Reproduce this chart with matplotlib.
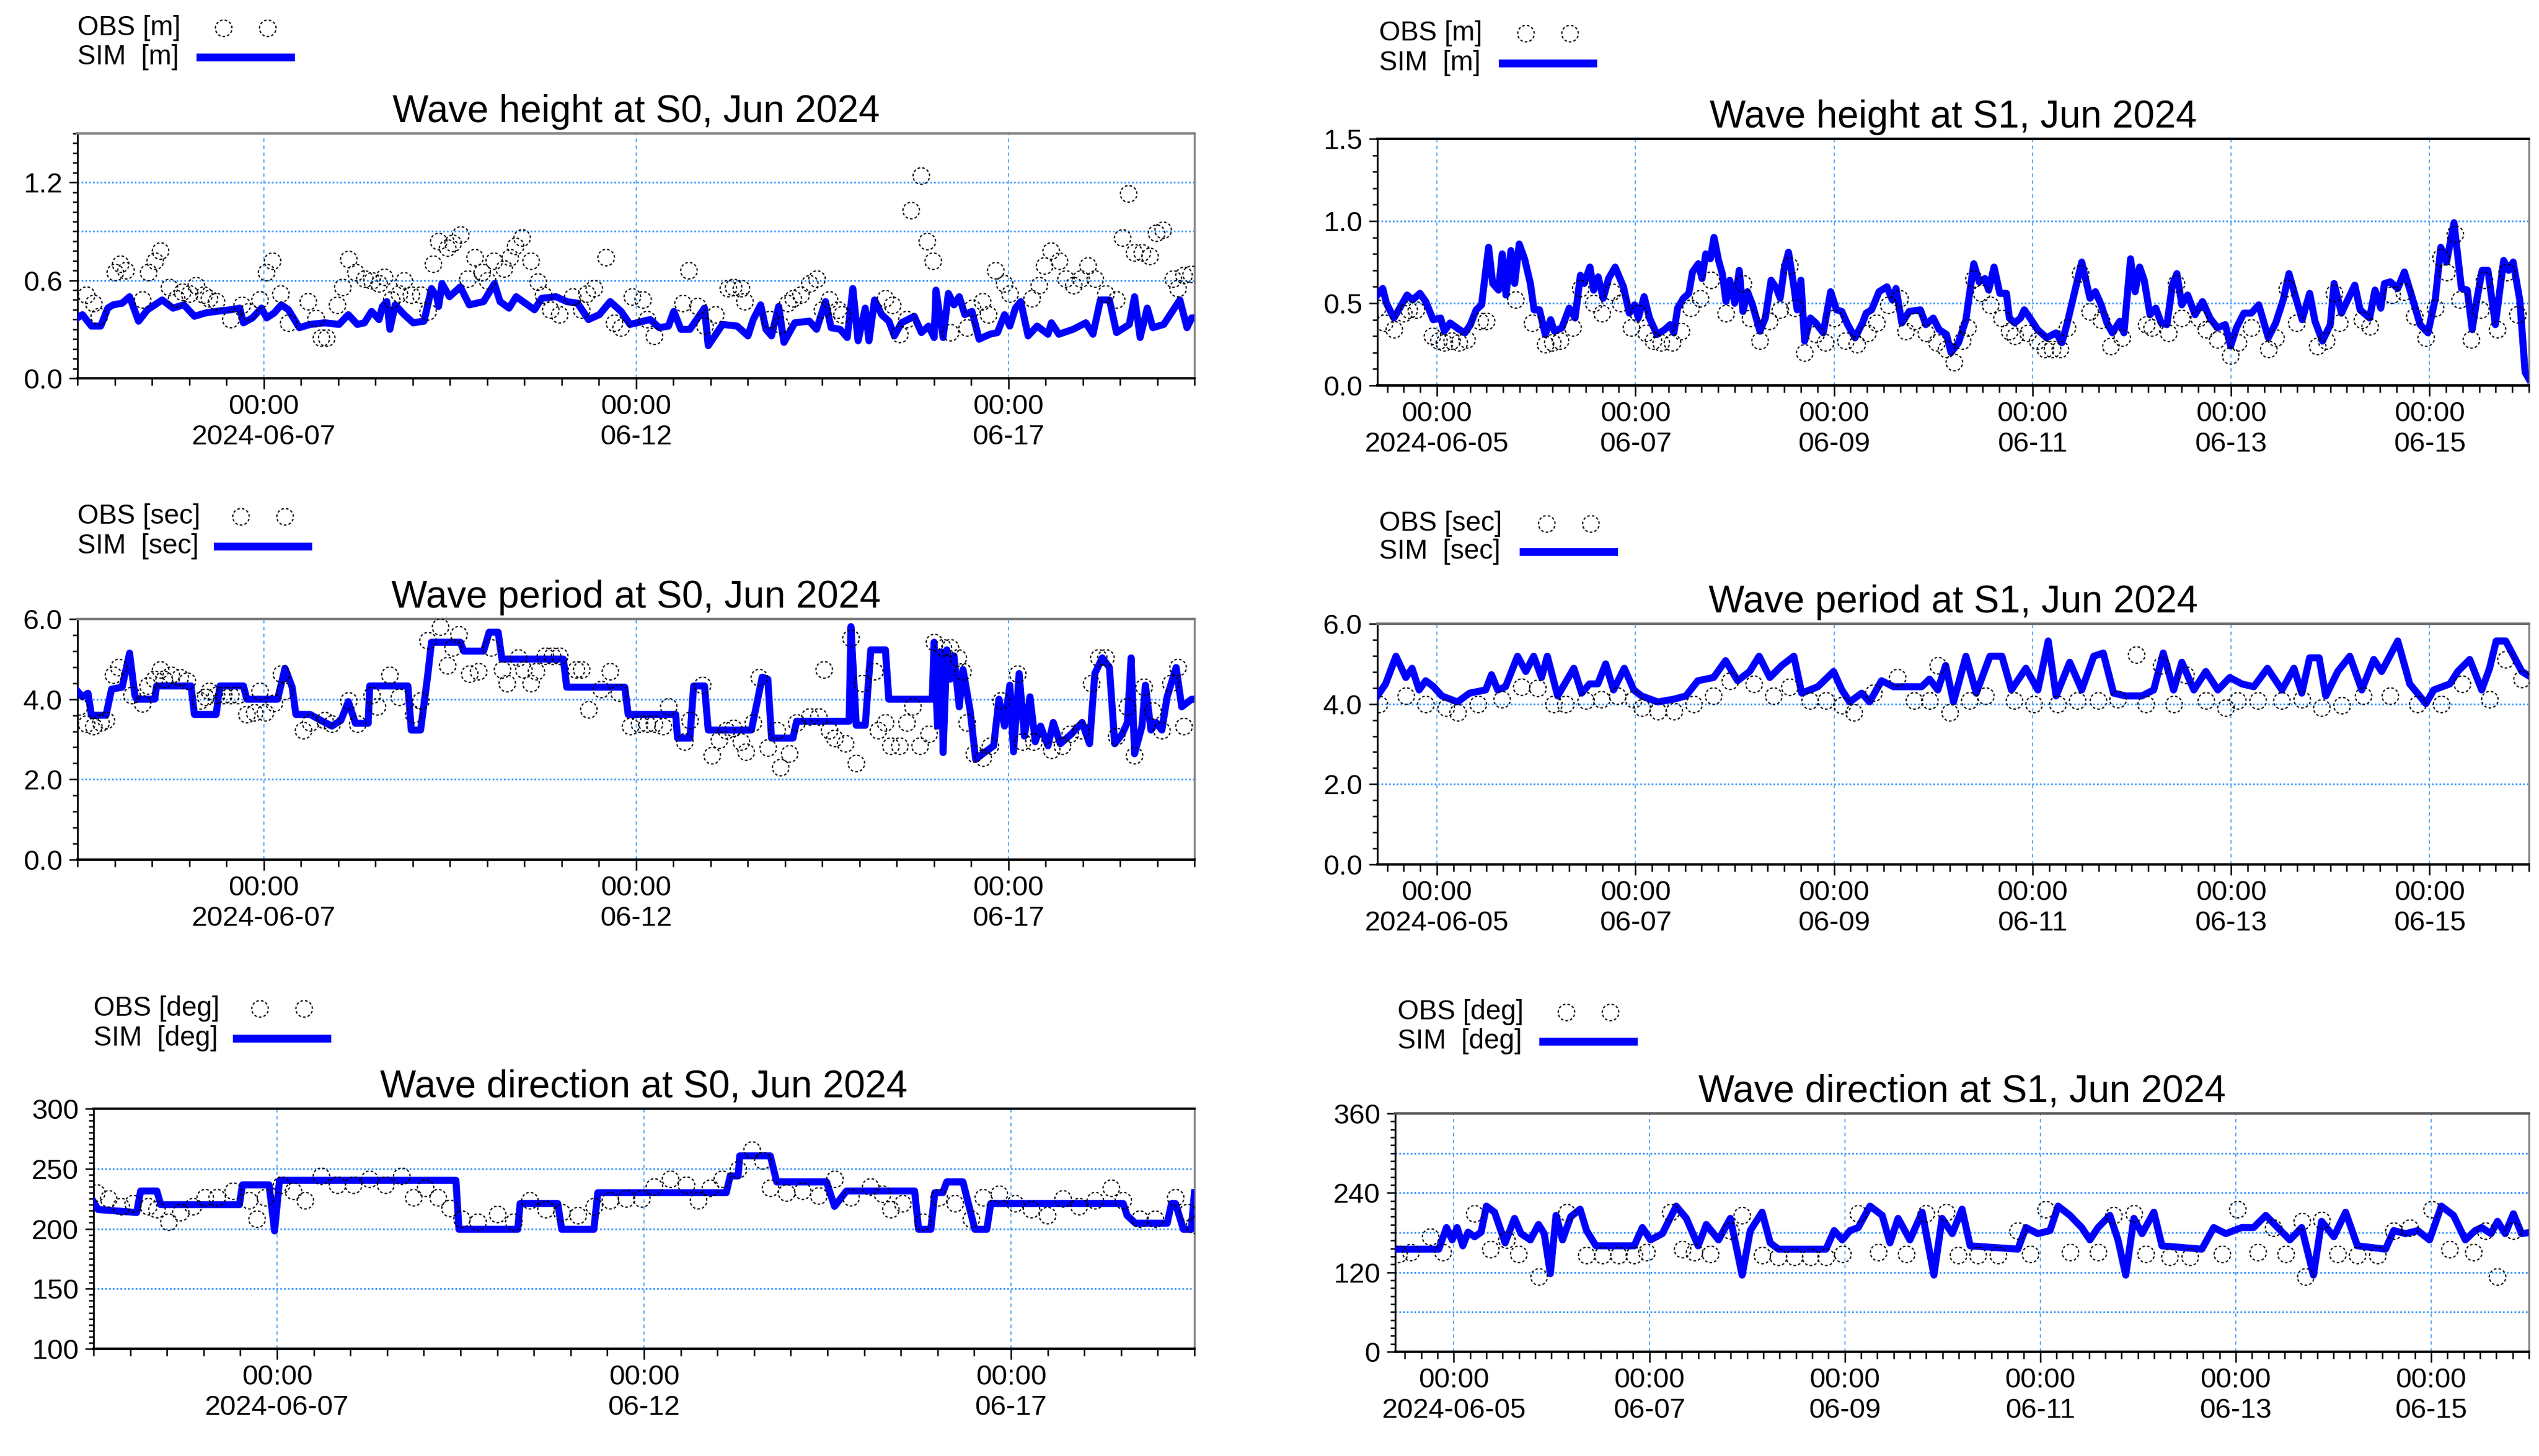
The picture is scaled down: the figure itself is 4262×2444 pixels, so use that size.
import numpy as np
import matplotlib
matplotlib.use('Agg')
import matplotlib.pyplot as plt
import matplotlib.dates as mdates
from matplotlib.path import Path
from matplotlib.lines import Line2D
from matplotlib.ticker import MultipleLocator

plt.rcParams['font.family'] = ['Liberation Sans', 'DejaVu Sans']

W, H, DPI = 4262, 2444, 100

# ---------------- data ----------------
# S0 series: [hours since 2024-06-04 12:00, value]
# S1 series: [hours since 2024-06-05 00:00, value]
BASE_S0 = '2024-06-04T12:00'
BASE_S1 = '2024-06-05T00:00'

hs0_sim = np.array([
    [0, 0.37], [1.6, 0.39], [4.5, 0.32], [7.5, 0.32], [9.8, 0.43], [11.5, 0.45], [14.4, 0.46], [16.8, 0.50],
    [19.7, 0.35], [22.6, 0.42], [27.3, 0.48], [30.8, 0.43], [34.3, 0.45], [37.7, 0.38], [41.2, 0.40],
    [44.7, 0.41], [49.4, 0.42], [52.3, 0.43], [53.5, 0.34], [56.4, 0.37], [59.3, 0.43], [61.0, 0.37],
    [63.4, 0.40], [65.7, 0.45], [68.0, 0.42], [71.5, 0.31], [75.0, 0.33], [79.7, 0.34], [84.3, 0.33],
    [87.3, 0.39], [90.2, 0.33], [92.5, 0.34], [94.8, 0.41], [97.2, 0.36], [98.3, 0.44], [99.7, 0.47],
    [100.7, 0.30], [102.4, 0.45], [105.3, 0.39], [108.2, 0.34], [111.7, 0.35], [114.1, 0.55], [115.8, 0.50],
    [116.4, 0.44], [117.5, 0.58], [119.9, 0.50], [123.4, 0.56], [126.3, 0.45], [130.9, 0.47], [134.4, 0.58],
    [136.2, 0.47], [139.1, 0.43], [141.4, 0.50], [147.3, 0.42], [149.6, 0.49], [154.2, 0.50], [157.7, 0.47],
    [161.2, 0.46], [164.7, 0.36], [168.2, 0.39], [171.7, 0.47], [175.2, 0.41], [178.1, 0.33], [184.6, 0.36],
    [187.5, 0.31], [190.5, 0.32], [192.2, 0.41], [194.5, 0.30], [197.4, 0.30], [202.1, 0.43], [203.3, 0.20],
    [207.9, 0.33], [212.6, 0.32], [216.1, 0.26], [217.8, 0.36], [220.2, 0.45], [221.9, 0.30], [223.7, 0.26],
    [226.0, 0.44], [227.7, 0.22], [231.2, 0.34], [235.9, 0.35], [238.2, 0.30], [241.1, 0.47], [242.9, 0.31],
    [245.8, 0.30], [248.1, 0.25], [249.9, 0.55], [251.6, 0.23], [253.9, 0.43], [255.1, 0.23], [256.9, 0.48],
    [259.2, 0.39], [261.5, 0.35], [263.3, 0.26], [265.6, 0.34], [269.7, 0.38], [272.0, 0.28], [274.3, 0.32],
    [276.1, 0.25], [276.7, 0.54], [279.0, 0.25], [280.7, 0.52], [282.5, 0.45], [284.2, 0.50], [286.0, 0.39],
    [288.3, 0.41], [290.6, 0.24], [294.1, 0.27], [296.5, 0.28], [298.8, 0.39], [300.5, 0.32], [302.3, 0.43],
    [304.0, 0.47], [306.4, 0.26], [309.3, 0.32], [312.8, 0.27], [313.9, 0.34], [316.3, 0.27], [320.9, 0.30],
    [325.0, 0.34], [327.3, 0.27], [329.7, 0.48], [332.6, 0.48], [334.9, 0.28], [339.0, 0.33], [340.7, 0.50],
    [342.5, 0.25], [344.8, 0.43], [346.6, 0.31], [350.1, 0.33], [355.3, 0.48], [357.6, 0.31], [359.1, 0.37],
    [360, 0.37]])
hs0_obs = np.array([
    [2.8, 0.51], [5.1, 0.46], [6.9, 0.38], [12.1, 0.65], [13.9, 0.70], [15.6, 0.66], [20.9, 0.48], [22.8, 0.65],
    [24.9, 0.72], [26.7, 0.78], [29.6, 0.56], [31.9, 0.49], [33.7, 0.53], [36.0, 0.52], [38.3, 0.57],
    [40.7, 0.51], [42.4, 0.49], [44.7, 0.47], [49.4, 0.36], [52.9, 0.45], [55.2, 0.41], [58.7, 0.48],
    [60.8, 0.65], [62.8, 0.72], [65.5, 0.52], [68.0, 0.34], [74.4, 0.47], [76.8, 0.37], [78.5, 0.25],
    [80.3, 0.25], [83.8, 0.45], [85.5, 0.56], [87.3, 0.73], [89.6, 0.65], [92.5, 0.61], [94.8, 0.60],
    [97.2, 0.58], [98.9, 0.62], [101.2, 0.48], [103.6, 0.52], [105.3, 0.60], [107.6, 0.51], [110.6, 0.51],
    [112.9, 0.41], [114.6, 0.70], [116.4, 0.84], [119.3, 0.80], [121.0, 0.83], [123.4, 0.88], [125.7, 0.61],
    [128.0, 0.74], [130.4, 0.65], [132.1, 0.60], [134.2, 0.72], [137.4, 0.67], [139.3, 0.74], [141.2, 0.81],
    [143.2, 0.86], [146.1, 0.72], [148.4, 0.59], [150.2, 0.51], [152.5, 0.42], [155.4, 0.39], [159.5, 0.50],
    [162.4, 0.42], [164.1, 0.52], [166.5, 0.55], [170.3, 0.74], [172.9, 0.34], [175.2, 0.31], [178.7, 0.50],
    [182.3, 0.48], [183.5, 0.36], [185.8, 0.26], [195.1, 0.46], [196.9, 0.66], [199.8, 0.44], [202.1, 0.32],
    [205.6, 0.39], [209.7, 0.55], [211.4, 0.56], [213.8, 0.55], [215.1, 0.47], [223.1, 0.36], [226.6, 0.33],
    [228.9, 0.46], [230.6, 0.49], [233.0, 0.51], [235.9, 0.58], [238.2, 0.61], [240.0, 0.42], [242.3, 0.48],
    [245.2, 0.42], [246.4, 0.39], [260.3, 0.49], [262.7, 0.45], [265.0, 0.27], [267.3, 0.36], [268.7, 1.03],
    [271.8, 1.24], [273.7, 0.84], [275.7, 0.72], [281.3, 0.28], [286.6, 0.31], [288.3, 0.43], [291.6, 0.47],
    [293.6, 0.39], [295.9, 0.66], [298.8, 0.58], [300.5, 0.52], [307.5, 0.49], [309.9, 0.57], [311.6, 0.69],
    [313.7, 0.78], [316.5, 0.72], [318.6, 0.61], [321.0, 0.57], [323.3, 0.61], [325.6, 0.69], [328.0, 0.61],
    [331.4, 0.52], [334.9, 0.48], [336.7, 0.86], [338.6, 1.13], [340.7, 0.77], [343.1, 0.77], [345.6, 0.75],
    [347.7, 0.89], [349.8, 0.91], [353.0, 0.61], [354.7, 0.55], [356.5, 0.63], [358.8, 0.64]])

hs1_sim = np.array([
    [-14.4, 0.55], [-13.1, 0.59], [-12.2, 0.50], [-10.4, 0.41], [-9.0, 0.47], [-7.2, 0.55], [-5.9, 0.52],
    [-4.1, 0.56], [-2.7, 0.51], [-0.9, 0.40], [0.9, 0.41], [1.8, 0.33], [3.2, 0.38], [5.4, 0.34], [6.8, 0.32],
    [8.1, 0.37], [9.5, 0.46], [10.8, 0.49], [12.5, 0.84], [13.5, 0.62], [14.9, 0.58], [15.8, 0.80], [16.7, 0.55],
    [17.9, 0.82], [18.8, 0.62], [19.9, 0.86], [21.2, 0.77], [22.6, 0.62], [23.5, 0.46], [24.8, 0.46],
    [26.2, 0.31], [27.5, 0.40], [28.4, 0.33], [30.2, 0.35], [32.0, 0.47], [33.4, 0.41], [34.7, 0.67],
    [35.6, 0.62], [37.0, 0.72], [37.9, 0.58], [39.0, 0.66], [40.2, 0.53], [41.5, 0.65], [43.1, 0.72],
    [45.1, 0.60], [46.5, 0.44], [47.8, 0.49], [48.7, 0.41], [50.1, 0.54], [51.4, 0.41], [53.2, 0.31],
    [55.1, 0.34], [56.4, 0.37], [57.3, 0.32], [58.2, 0.47], [59.6, 0.53], [60.9, 0.56], [61.8, 0.69],
    [63.2, 0.74], [64.1, 0.65], [65.0, 0.80], [66.1, 0.77], [67.0, 0.90], [68.1, 0.76], [69.0, 0.68],
    [69.9, 0.51], [70.8, 0.64], [72.0, 0.50], [73.1, 0.70], [74.0, 0.45], [75.1, 0.57], [76.3, 0.49],
    [78.1, 0.33], [79.4, 0.41], [80.8, 0.64], [82.1, 0.59], [83.0, 0.53], [83.9, 0.70], [85.0, 0.81],
    [86.2, 0.62], [87.1, 0.46], [88.0, 0.64], [88.9, 0.27], [90.3, 0.41], [91.6, 0.38], [93.4, 0.32],
    [95.2, 0.57], [96.6, 0.46], [97.9, 0.45], [99.3, 0.37], [101.1, 0.29], [102.9, 0.38], [103.8, 0.44],
    [105.1, 0.46], [106.9, 0.57], [108.8, 0.60], [110.1, 0.52], [111.0, 0.59], [112.4, 0.38], [114.2, 0.45],
    [116.9, 0.46], [118.2, 0.37], [120.0, 0.41], [121.4, 0.34], [123.2, 0.31], [124.3, 0.20], [126.1, 0.26],
    [127.9, 0.40], [129.8, 0.74], [131.1, 0.63], [132.5, 0.65], [133.4, 0.58], [134.7, 0.72], [136.1, 0.56],
    [137.7, 0.56], [138.4, 0.41], [139.7, 0.38], [141.1, 0.41], [142.0, 0.46], [143.4, 0.41], [145.2, 0.34],
    [147.4, 0.29], [149.7, 0.32], [151.1, 0.26], [152.4, 0.38], [154.3, 0.58], [155.9, 0.75], [157.9, 0.53],
    [159.2, 0.57], [160.6, 0.49], [162.0, 0.38], [163.3, 0.32], [165.1, 0.39], [166.1, 0.32], [167.7, 0.77],
    [168.8, 0.57], [169.9, 0.72], [171.0, 0.64], [172.4, 0.43], [173.8, 0.47], [175.1, 0.38], [176.5, 0.37],
    [177.8, 0.61], [178.9, 0.68], [180.1, 0.49], [181.5, 0.55], [183.3, 0.43], [185.1, 0.51], [186.9, 0.41],
    [188.7, 0.35], [190.6, 0.37], [191.9, 0.24], [193.3, 0.35], [195.1, 0.44], [196.9, 0.44], [198.7, 0.49],
    [201.0, 0.29], [202.8, 0.38], [204.6, 0.52], [206.0, 0.68], [207.8, 0.52], [209.2, 0.40], [211.0, 0.56],
    [212.3, 0.39], [214.1, 0.27], [216.0, 0.37], [216.9, 0.62], [218.7, 0.44], [220.0, 0.51], [221.9, 0.61],
    [223.2, 0.46], [225.5, 0.41], [226.8, 0.58], [228.2, 0.47], [229.1, 0.62], [230.5, 0.63], [232.3, 0.59],
    [233.9, 0.69], [235.5, 0.56], [237.7, 0.37], [239.6, 0.32], [241.4, 0.53], [242.7, 0.84], [244.1, 0.75],
    [245.9, 0.99], [247.7, 0.59], [249.1, 0.58], [250.3, 0.34], [251.4, 0.52], [252.7, 0.70], [254.1, 0.70],
    [255.9, 0.37], [257.9, 0.76], [259.1, 0.70], [260.2, 0.75], [261.8, 0.52], [263.1, 0.08], [264.0, 0.04]])
hs1_obs = np.array([
    [-14.4, 0.47], [-12.6, 0.38], [-10.4, 0.34], [-8.1, 0.44], [-6.8, 0.46], [-5.0, 0.46], [-1.1, 0.30],
    [0.5, 0.27], [1.8, 0.26], [3.6, 0.27], [5.4, 0.26], [7.2, 0.28], [10.4, 0.39], [11.9, 0.39], [19.0, 0.52],
    [23.0, 0.38], [26.2, 0.25], [28.0, 0.26], [29.8, 0.27], [32.9, 0.35], [34.7, 0.59], [37.9, 0.50],
    [39.9, 0.44], [42.4, 0.57], [44.4, 0.50], [46.9, 0.35], [48.7, 0.44], [50.5, 0.32], [52.3, 0.27],
    [54.2, 0.26], [56.9, 0.26], [59.1, 0.33], [61.4, 0.47], [63.6, 0.53], [66.3, 0.64], [69.9, 0.44],
    [74.0, 0.62], [75.8, 0.41], [78.1, 0.27], [80.3, 0.39], [83.0, 0.46], [85.3, 0.73], [86.6, 0.47],
    [88.9, 0.20], [91.6, 0.31], [93.9, 0.26], [96.1, 0.41], [98.8, 0.27], [101.5, 0.25], [104.2, 0.32],
    [106.3, 0.38], [109.2, 0.49], [111.9, 0.53], [113.3, 0.33], [115.5, 0.39], [118.2, 0.32], [120.9, 0.26],
    [123.2, 0.22], [125.0, 0.14], [127.0, 0.27], [128.4, 0.35], [129.8, 0.65], [131.6, 0.56], [133.8, 0.49],
    [136.6, 0.41], [138.4, 0.33], [139.7, 0.30], [142.9, 0.32], [145.2, 0.27], [147.0, 0.22], [148.8, 0.22],
    [150.6, 0.22], [152.4, 0.35], [155.6, 0.68], [157.9, 0.45], [160.6, 0.40], [162.9, 0.24], [165.6, 0.29],
    [171.5, 0.37], [172.9, 0.35], [176.9, 0.32], [178.8, 0.62], [180.1, 0.41], [184.2, 0.41], [186.0, 0.34],
    [188.7, 0.28], [191.9, 0.18], [193.7, 0.26], [196.9, 0.35], [201.0, 0.22], [202.8, 0.29], [205.5, 0.59],
    [207.8, 0.38], [212.8, 0.24], [215.1, 0.27], [216.9, 0.56], [218.2, 0.38], [223.7, 0.40], [225.5, 0.36],
    [230.9, 0.55], [233.7, 0.57], [236.4, 0.42], [239.1, 0.29], [241.4, 0.47], [242.7, 0.78], [244.1, 0.69],
    [246.1, 0.92], [247.3, 0.52], [250.0, 0.28], [252.3, 0.46], [253.2, 0.64], [256.3, 0.34], [258.6, 0.69],
    [261.3, 0.43]])

tp0_sim = np.array([
    [0, 4.2], [1.6, 4.06], [3.4, 4.15], [4.5, 3.6], [9.2, 3.6], [11.0, 4.25], [14.4, 4.3], [16.8, 5.15],
    [18.5, 4.1], [19.1, 4.0], [24.9, 4.0], [25.5, 4.33], [36.6, 4.33], [37.7, 3.62], [44.7, 3.62], [45.9, 4.33],
    [53.5, 4.33], [54.6, 4.0], [64.5, 4.0], [66.9, 4.77], [69.2, 4.3], [70.4, 3.62], [75.0, 3.62], [78.5, 3.47],
    [82.0, 3.33], [84.9, 3.47], [87.3, 3.94], [89.6, 3.4], [93.7, 3.4], [94.2, 4.33], [106.5, 4.33],
    [107.6, 3.23], [110.6, 3.23], [112.9, 4.6], [114.1, 5.42], [123.4, 5.42], [124.5, 5.2], [130.9, 5.2],
    [132.7, 5.67], [135.6, 5.67], [136.8, 5.0], [156.6, 5.0], [157.7, 4.3], [176.4, 4.3], [177.5, 3.62],
    [192.8, 3.62], [193.4, 3.03], [197.4, 3.03], [198.6, 4.33], [202.1, 4.33], [203.3, 3.23], [217.2, 3.23],
    [220.7, 4.55], [222.5, 4.5], [223.7, 3.03], [230.6, 3.03], [231.8, 3.45], [248.7, 3.45], [249.3, 5.81],
    [251.0, 3.35], [253.9, 3.35], [255.7, 5.23], [260.4, 5.23], [261.5, 4.0], [275.5, 4.0], [276.1, 5.42],
    [277.2, 3.33], [278.4, 5.18], [279.0, 2.67], [280.2, 5.23], [281.3, 4.5], [282.5, 5.08], [284.2, 3.81],
    [285.4, 4.74], [287.7, 3.72], [289.5, 2.5], [291.8, 2.64], [295.3, 2.84], [297.0, 4.0], [298.8, 3.33],
    [300.5, 4.35], [301.7, 2.69], [303.5, 4.64], [305.2, 3.08], [307.0, 4.06], [308.7, 2.94], [310.4, 3.33],
    [312.8, 2.84], [314.5, 3.42], [316.8, 2.89], [320.3, 3.13], [323.8, 3.42], [326.2, 2.89], [327.9, 4.64],
    [330.3, 5.03], [332.6, 4.79], [334.3, 2.89], [336.7, 3.13], [338.4, 3.42], [339.6, 5.03], [340.7, 2.64],
    [343.1, 3.33], [344.2, 4.35], [346.0, 3.23], [347.7, 3.42], [349.5, 3.23], [351.2, 4.06], [354.1, 4.79],
    [355.9, 3.81], [359.1, 4.0], [360, 4.0]])
tp0_obs = np.array([
    [0.5, 3.81], [2.8, 3.38], [5.1, 3.33], [7.5, 3.42], [9.2, 3.47], [11.5, 4.6], [13.3, 4.79], [17.4, 4.1],
    [20.9, 3.89], [22.6, 4.33], [24.7, 4.5], [26.7, 4.74], [27.8, 4.5], [30.2, 4.6], [33.1, 4.55], [35.4, 4.45],
    [39.5, 3.96], [41.2, 4.06], [42.4, 4.2], [44.7, 4.1], [47.1, 4.1], [49.4, 4.1], [51.7, 4.1], [54.6, 3.62],
    [57.0, 3.67], [58.7, 4.2], [60.5, 3.67], [63.4, 3.91], [65.7, 4.64], [66.9, 4.2], [72.7, 3.23], [75.0, 3.42],
    [79.7, 3.47], [82.0, 3.38], [87.3, 3.96], [90.2, 3.38], [94.8, 4.1], [96.6, 3.81], [100.7, 4.6],
    [103.6, 4.06], [108.2, 3.62], [110.6, 3.96], [112.9, 5.47], [117.0, 5.81], [119.3, 4.84], [121.0, 5.28],
    [122.8, 5.62], [126.3, 4.64], [129.2, 4.69], [133.3, 5.28], [136.8, 4.74], [138.5, 4.4], [142.0, 5.03],
    [143.8, 4.74], [146.1, 4.4], [147.8, 4.69], [150.8, 5.08], [153.1, 5.08], [155.4, 5.08], [160.7, 4.74],
    [162.4, 4.74], [164.7, 3.74], [168.8, 4.25], [171.7, 4.69], [174.6, 4.16], [178.1, 3.33], [181.1, 3.38],
    [183.5, 3.38], [185.8, 3.38], [188.7, 3.33], [190.5, 3.81], [195.7, 2.94], [197.4, 3.47], [201.5, 4.35],
    [204.4, 2.6], [206.8, 2.99], [209.1, 3.23], [211.4, 3.28], [213.8, 2.94], [215.5, 2.69], [217.8, 3.42],
    [219.6, 4.55], [222.5, 2.79], [225.4, 3.23], [226.6, 2.3], [229.5, 2.64], [231.8, 3.42], [235.9, 3.57],
    [238.8, 3.57], [240.5, 4.74], [242.3, 3.23], [244.0, 3.03], [247.5, 2.89], [249.3, 5.52], [251.0, 2.4],
    [252.8, 4.4], [256.9, 4.69], [258.0, 3.23], [260.4, 3.42], [262.1, 2.84], [265.0, 2.84], [267.3, 3.42],
    [269.1, 3.81], [271.4, 2.84], [274.3, 3.13], [276.1, 5.42], [279.0, 5.28], [281.3, 5.28], [283.7, 5.03],
    [285.4, 4.69], [286.6, 3.42], [288.9, 2.64], [291.8, 2.54], [294.1, 2.84], [297.6, 3.96], [302.9, 4.64],
    [304.6, 2.94], [308.1, 2.94], [313.9, 2.74], [317.4, 2.84], [319.8, 3.13], [323.3, 3.23], [326.8, 4.4],
    [329.1, 5.03], [331.4, 5.03], [334.9, 3.08], [338.4, 3.81], [340.7, 2.6], [343.6, 4.3], [346.6, 3.72],
    [349.5, 3.23], [352.4, 4.4], [354.7, 4.79], [356.5, 3.33]])

tp1_sim = np.array([
    [-14.4, 4.2], [-12.4, 4.5], [-9.9, 5.19], [-7.5, 4.66], [-6.0, 4.89], [-4.3, 4.35], [-2.7, 4.58],
    [-0.8, 4.43], [1.2, 4.2], [5.0, 4.05], [7.9, 4.27], [11.8, 4.35], [13.2, 4.73], [14.7, 4.35], [16.6, 4.43],
    [19.5, 5.19], [21.5, 4.81], [23.4, 5.19], [25.3, 4.66], [26.7, 5.19], [29.2, 4.2], [33.1, 4.89],
    [35.0, 4.27], [36.9, 4.5], [38.9, 4.5], [40.8, 5.0], [42.7, 4.35], [45.3, 4.89], [47.6, 4.35], [49.5, 4.2],
    [53.4, 4.05], [57.3, 4.12], [60.2, 4.2], [63.1, 4.58], [66.9, 4.66], [69.8, 5.08], [72.7, 4.58],
    [75.6, 4.81], [77.9, 5.19], [80.5, 4.66], [83.4, 4.96], [86.3, 5.19], [88.2, 4.27], [92.1, 4.43],
    [95.9, 4.81], [97.9, 4.35], [99.8, 4.05], [102.7, 4.27], [104.6, 4.05], [107.5, 4.58], [110.4, 4.43],
    [117.2, 4.43], [119.1, 4.62], [121.1, 4.35], [123.0, 4.96], [124.9, 4.05], [127.9, 5.19], [130.4, 4.27],
    [133.7, 5.19], [136.6, 5.19], [138.9, 4.35], [142.4, 4.89], [145.3, 4.35], [147.8, 5.57], [149.7, 4.2],
    [153.0, 5.04], [155.9, 4.35], [158.8, 5.19], [161.1, 5.27], [163.6, 4.27], [166.5, 4.2], [170.4, 4.2],
    [173.3, 4.35], [175.6, 5.27], [178.1, 4.35], [180.1, 5.04], [183.0, 4.35], [185.9, 4.81], [188.8, 4.35],
    [191.7, 4.66], [194.6, 4.5], [197.5, 4.43], [200.8, 4.89], [204.3, 4.35], [207.2, 4.89], [209.1, 4.27],
    [211.0, 5.15], [213.3, 5.15], [214.9, 4.2], [217.8, 4.81], [220.7, 5.19], [223.6, 4.35], [226.5, 5.11],
    [228.4, 4.81], [232.3, 5.57], [235.2, 4.5], [239.1, 4.01], [241.0, 4.35], [244.9, 4.5], [246.8, 4.81],
    [249.7, 5.11], [252.6, 4.35], [254.5, 4.89], [256.1, 5.57], [258.4, 5.57], [262.3, 4.81], [264.0, 4.7]])
tp1_obs = np.array([
    [-13.9, 4.0], [-7.5, 4.2], [-2.7, 4.0], [2.1, 3.9], [5.0, 3.78], [9.9, 4.0], [15.7, 4.12], [20.5, 4.43],
    [24.4, 4.4], [28.2, 4.0], [31.1, 4.0], [36.0, 4.08], [39.8, 4.12], [43.7, 4.2], [47.6, 4.12], [49.5, 3.9],
    [53.4, 3.82], [57.3, 3.82], [62.1, 4.0], [66.9, 4.2], [70.8, 4.58], [76.6, 4.5], [81.4, 4.2], [85.3, 4.43],
    [90.1, 4.08], [94.0, 4.08], [97.9, 3.97], [100.8, 3.78], [105.6, 4.27], [111.4, 4.66], [115.3, 4.08],
    [119.1, 4.08], [121.1, 4.96], [124.0, 3.78], [128.8, 4.08], [132.7, 4.2], [139.5, 4.08], [144.3, 4.0],
    [150.1, 4.0], [154.9, 4.08], [159.8, 4.08], [164.6, 4.12], [169.1, 5.23], [171.4, 4.0], [175.2, 4.96],
    [178.1, 4.0], [181.0, 4.73], [185.9, 4.08], [190.7, 3.9], [193.6, 4.08], [198.5, 4.08], [204.3, 4.08],
    [209.1, 4.12], [213.9, 3.9], [218.8, 3.97], [224.0, 4.2], [230.4, 4.2], [237.1, 4.0], [242.9, 4.0],
    [247.8, 4.5], [254.5, 4.12], [258.4, 5.11], [262.3, 4.62]])

dir0_sim = np.array([
    [0, 222.4], [1.5, 216], [14.1, 213.5], [15.4, 231.4], [20.7, 231.4], [22.0, 220], [47.7, 220],
    [48.7, 236.5], [57.4, 236.5], [59.2, 198.2], [60.8, 240.3], [118.5, 240.3], [119.5, 199.5],
    [138.7, 199.5], [139.5, 221], [151.8, 221], [153.1, 199.5], [163.6, 199.5], [164.9, 230], [206.9, 230],
    [208.2, 244], [210.8, 244], [211.3, 260.7], [221.3, 260.7], [223.4, 239], [239.7, 239], [242.3, 218.6],
    [246.2, 231.4], [268.5, 231.4], [269.8, 199.5], [273.8, 199.5], [275.1, 230], [277.7, 230], [279.0, 239],
    [284.3, 239], [288.2, 199.5], [292.1, 199.5], [293.4, 221], [336.7, 221], [338.0, 211], [340.7, 204.6],
    [351.1, 204.6], [352.5, 221], [353.8, 221], [356.4, 199.5], [359.0, 199.5], [360, 230]])
dir0_obs = np.array([
    [1.0, 230], [4.9, 225], [8.9, 218.6], [12.8, 221], [18.0, 218.6], [20.7, 216], [24.6, 205.9],
    [28.5, 213.5], [32.5, 218.6], [36.4, 226.3], [40.3, 226.3], [45.6, 231.4], [50.8, 223.7], [53.4, 208.4],
    [56.1, 226.3], [61.3, 236.5], [65.2, 231.4], [69.2, 223.7], [74.4, 244], [79.7, 236.5], [84.9, 236.5],
    [90.2, 241.6], [95.4, 236.5], [100.7, 244], [104.6, 226.3], [108.5, 233.9], [112.5, 226.3], [116.4, 217.3],
    [120.3, 208.4], [125.6, 205.9], [132.1, 212.2], [137.4, 205.9], [142.6, 223.7], [147.9, 216],
    [153.1, 213.5], [158.4, 211], [163.6, 218.6], [168.9, 223.7], [174.1, 225], [179.3, 225], [183.3, 235.2],
    [188.5, 241.6], [193.8, 236.5], [197.7, 223.7], [201.6, 233.9], [205.6, 241.6], [210.8, 249.2],
    [215.3, 265.8], [218.7, 256.9], [221.3, 233.9], [226.6, 230], [231.8, 231.4], [237.0, 227.6],
    [242.3, 241.6], [247.5, 226.3], [254.1, 235.2], [258.0, 228.8], [260.7, 216], [264.6, 221], [271.1, 205.9],
    [276.4, 226.3], [281.6, 221], [286.9, 208.4], [290.8, 226.3], [296.1, 228.8], [301.3, 221], [306.6, 216],
    [311.8, 211], [317.0, 225], [322.3, 218.6], [327.5, 223.7], [332.8, 233.9], [336.7, 223.7], [342.0, 208.4],
    [347.2, 208.4], [353.8, 226.3], [357.7, 213.5], [360.0, 203.3]])

dir1_sim = np.array([
    [-14.4, 155], [-3.7, 155], [-1.8, 187.6], [-0.4, 169], [0.8, 187.6], [2.2, 160], [3.5, 180.7],
    [5.1, 173.7], [6.7, 180.7], [8.0, 220], [10.0, 210.8], [12.6, 164.5], [14.9, 201.5], [16.5, 178.4],
    [18.8, 169], [20.8, 192.3], [22.2, 178.4], [23.7, 118], [25.1, 206], [26.7, 169], [28.7, 203.9],
    [31.0, 215.4], [32.6, 183], [34.9, 160], [44.3, 160], [46.3, 187.6], [48.3, 169], [51.2, 178.4],
    [54.6, 220], [57.1, 201.5], [60.0, 160], [62.0, 192.3], [65.0, 169], [67.9, 201.5], [70.8, 115.8],
    [72.8, 183], [75.7, 210.8], [77.7, 164.5], [79.7, 155], [91.4, 155], [93.4, 183], [95.4, 169],
    [97.3, 183], [99.3, 187.6], [102.2, 220], [105.2, 206], [107.1, 164.5], [109.1, 201.5], [112.0, 169],
    [115.0, 210.8], [117.9, 115.8], [119.9, 201.5], [122.4, 178.4], [124.8, 215.4], [126.8, 160],
    [138.5, 155], [140.5, 187.6], [143.4, 178.4], [146.4, 183], [148.4, 220], [151.3, 206], [154.2, 187.6],
    [156.2, 169], [158.2, 187.6], [161.1, 206], [163.1, 169], [165.0, 115.8], [167.0, 201.5], [169.0, 178.4],
    [171.9, 210.8], [173.9, 160], [183.7, 155], [186.6, 187.6], [189.6, 178.4], [191.5, 183], [193.5, 187.6],
    [196.4, 187.6], [199.4, 206], [202.3, 187.6], [205.3, 169], [208.2, 187.6], [211.1, 115.8], [213.1, 197],
    [216.1, 173.7], [219.0, 210.8], [221.9, 160], [228.8, 155], [230.8, 183], [233.7, 178.4], [236.7, 183],
    [239.6, 169], [242.5, 220], [245.5, 206], [248.4, 169], [250.8, 183], [252.4, 187.6], [254.7, 178.4],
    [256.3, 197], [258.2, 178.4], [260.2, 208.5], [262.2, 178.4], [264.0, 180]])
dir1_obs = np.array([
    [-13.5, 148], [-10.6, 150], [-5.7, 173.7], [-2.7, 150], [5.1, 208.5], [9.0, 155], [13.0, 169],
    [15.9, 148], [20.8, 113.5], [27.7, 210.8], [32.6, 146], [36.5, 146], [40.4, 146], [44.3, 146],
    [47.3, 150.6], [53.2, 210.8], [56.1, 155], [59.1, 150.6], [63.0, 148], [67.9, 183], [70.8, 206],
    [75.7, 146], [79.7, 143.5], [83.6, 143.5], [87.5, 143.5], [91.4, 143.5], [95.4, 148], [99.3, 208.5],
    [104.2, 150.6], [111.1, 148], [116.0, 208.5], [120.9, 210.8], [123.8, 146], [128.7, 146], [133.6, 146],
    [138.5, 183], [141.5, 148], [145.4, 215.4], [151.3, 150.6], [158.2, 150.6], [162.1, 206], [167.0, 208.5],
    [169.9, 148], [175.8, 143.5], [180.7, 143.5], [188.6, 148], [192.5, 215.4], [197.4, 150.6], [201.3, 187.6],
    [204.3, 148], [208.2, 197], [209.2, 113.5], [213.1, 199], [217.0, 148], [221.9, 146], [226.8, 146],
    [230.8, 183], [234.7, 187.6], [240.2, 215.4], [244.5, 155], [250.4, 150.6], [253.3, 183], [256.3, 113.5],
    [260.2, 183]])

# axis ticks / labels
s0_xticks = ['2024-06-07', '2024-06-12', '2024-06-17']
s0_xlabels = ['00:00\n2024-06-07', '00:00\n06-12', '00:00\n06-17']
s1_xticks = ['2024-06-05', '2024-06-07', '2024-06-09', '2024-06-11', '2024-06-13', '2024-06-15']
s1_xlabels = ['00:00\n2024-06-05', '00:00\n06-07', '00:00\n06-09', '00:00\n06-11', '00:00\n06-13', '00:00\n06-15']

# ---------------- drawing ----------------
SIM_BLUE = '#0000ff'
SIM_LW = 8.5
OBS_MS = 20


def dashed_circle(n=11, frac=0.55):
    verts, codes = [], []
    step = 2 * np.pi / n
    for k in range(n):
        for i, a in enumerate(np.linspace(k * step, k * step + frac * step, 4)):
            verts.append((np.cos(a), np.sin(a)))
            codes.append(Path.MOVETO if i == 0 else Path.LINETO)
    return Path(verts, codes)


OBS_MARKER = dashed_circle()


def to_dates(base, hours):
    mins = np.round(np.asarray(hours, dtype=float) * 60).astype(int)
    return np.datetime64(base) + mins.astype('timedelta64[m]')


def panel(fig, box, title, unit, base, sim, obs, xlim, ylim, yticks, ylabels, ygrid, yminor,
          xticks, xlabels, xminor, top_color, leg):
    l, t, r, b = box
    ax = fig.add_axes([l / W, 1 - b / H, (r - l) / W, (b - t) / H])
    ax.plot(to_dates(base, sim[:, 0]), sim[:, 1], color=SIM_BLUE, lw=SIM_LW, zorder=3,
            solid_joinstyle='round')
    ax.plot(to_dates(base, obs[:, 0]), obs[:, 1], ls='none', marker=OBS_MARKER, ms=OBS_MS,
            mfc='none', mec='black', mew=1.5, zorder=4)
    for y in ygrid:
        ax.axhline(y, color='#2f8fff', lw=2, ls=(0, (1, 1.3)), zorder=1)
    xt = [mdates.date2num(np.datetime64(d)) for d in xticks]
    for x in xt:
        ax.axvline(x, color='#5aa8f5', lw=1.4, ls=(0, (3, 3)), zorder=1)
    ax.set_xlim(to_dates(base, xlim))
    ax.set_ylim(ylim)
    ax.set_xticks(xt)
    ax.set_xticklabels(xlabels)
    ax.xaxis.set_minor_locator(mdates.HourLocator(byhour=xminor))
    ax.set_yticks(yticks)
    ax.set_yticklabels(ylabels)
    ax.yaxis.set_minor_locator(MultipleLocator(yminor))
    ax.tick_params(axis='both', which='both', direction='out', colors='black', width=1.8)
    ax.tick_params(axis='both', which='major', labelsize=34)
    ax.tick_params(axis='x', which='major', length=13, pad=6)
    ax.tick_params(axis='x', which='minor', length=8.5)
    ax.tick_params(axis='y', which='major', length=10, pad=8)
    ax.tick_params(axis='y', which='minor', length=6)
    ax.spines['top'].set_color(top_color)
    ax.spines['top'].set_linewidth(3)
    ax.spines['right'].set_color('#8a8a8a')
    ax.spines['right'].set_linewidth(2.5)
    ax.spines['bottom'].set_linewidth(3)
    ax.spines['left'].set_linewidth(2.2)
    ax.set_title(title, fontsize=46, pad=14)

    # legend: label first, then the symbol
    ox, dy_obs, dy_sim, hx = leg
    y_obs = 1 - (t + dy_obs) / H
    y_sim = 1 - (t + dy_sim) / H
    fig.text((l + ox) / W, y_obs, 'OBS [%s]' % unit, fontsize=33, va='center', ha='left')
    fig.text((l + ox) / W, y_sim, 'SIM  [%s]' % unit, fontsize=33, va='center', ha='left')
    fig.add_artist(Line2D(np.array([l + hx + 39, l + hx + 113]) / W, [y_obs, y_obs], ls='none',
                          marker=OBS_MARKER, ms=OBS_MS, mfc='none', mec='black', mew=1.5,
                          transform=fig.transFigure))
    fig.add_artist(Line2D(np.array([l + hx, l + hx + 152]) / W, [y_sim, y_sim], color=SIM_BLUE,
                          lw=SIM_LW + 1, transform=fig.transFigure))
    return ax


fig = plt.figure(figsize=(W / DPI, H / DPI), dpi=DPI)
fig.patch.set_facecolor('white')

s0_xlim = [0, 360]
s1_xlim = [-14.4, 264]

panel(fig, (130, 224, 2005, 635), 'Wave height at S0, Jun 2024', 'm', BASE_S0, hs0_sim, hs0_obs,
      s0_xlim, (0, 1.5), [0, 0.6, 1.2], ['0.0', '0.6', '1.2'], [0.6, 0.9, 1.2], 0.06,
      s0_xticks, s0_xlabels, [0, 12], '#808080', (0, -177, -128, 206))
panel(fig, (2312, 233, 4245, 647), 'Wave height at S1, Jun 2024', 'm', BASE_S1, hs1_sim, hs1_obs,
      s1_xlim, (0, 1.5), [0, 0.5, 1.0, 1.5], ['0.0', '0.5', '1.0', '1.5'], [0.5, 1.0], 0.1,
      s1_xticks, s1_xlabels, list(range(0, 24, 4)), '#000000', (3, -177, -127, 210))
panel(fig, (130, 1039, 2005, 1443), 'Wave period at S0, Jun 2024', 'sec', BASE_S0, tp0_sim, tp0_obs,
      s0_xlim, (0, 6), [0, 2, 4, 6], ['0.0', '2.0', '4.0', '6.0'], [2.0, 4.0], 0.4,
      s0_xticks, s0_xlabels, [0, 12], '#808080', (0, -172, -122, 235))
panel(fig, (2312, 1047, 4245, 1451), 'Wave period at S1, Jun 2024', 'sec', BASE_S1, tp1_sim, tp1_obs,
      s1_xlim, (0, 6), [0, 2, 4, 6], ['0.0', '2.0', '4.0', '6.0'], [2.0, 4.0], 0.4,
      s1_xticks, s1_xlabels, list(range(0, 24, 4)), '#707070', (3, -168, -121, 245))
panel(fig, (157, 1861, 2005, 2264), 'Wave direction at S0, Jun 2024', 'deg', BASE_S0, dir0_sim, dir0_obs,
      s0_xlim, (100, 300), [100, 150, 200, 250, 300], ['100', '150', '200', '250', '300'],
      [150, 200, 250], 5, s0_xticks, s0_xlabels, [0, 12], '#000000', (0, -168, -118, 240))
panel(fig, (2342, 1869, 4245, 2269), 'Wave direction at S1, Jun 2024', 'deg', BASE_S1, dir1_sim, dir1_obs,
      s1_xlim, (0, 360), [0, 120, 240, 360], ['0', '120', '240', '360'], [60, 120, 180, 240, 300], 12,
      s1_xticks, s1_xlabels, list(range(0, 24, 4)), '#505050', (4, -170, -121, 248))

fig.savefig('out.png', dpi=DPI, facecolor='white')
